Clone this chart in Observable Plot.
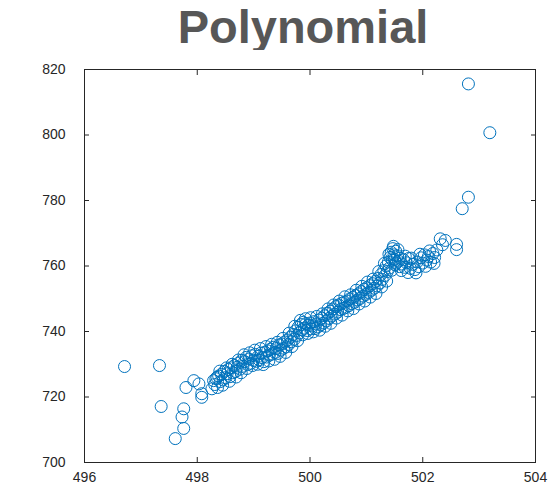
<!DOCTYPE html>
<html>
<head>
<meta charset="utf-8">
<script src="https://cdn.jsdelivr.net/npm/d3@7"></script>
<script src="https://cdn.jsdelivr.net/npm/@observablehq/plot@0.6"></script>
<style>
  html, body { margin: 0; padding: 0; background: #fff; }
  #wrap { position: relative; width: 554px; height: 486px; }
  #title { position: absolute; left: 0; top: 3px; width: 606px; height: 47px; text-align: center;
    font: bold 47px "Liberation Sans", Arial, sans-serif; line-height: 47px; color: #575757; }
  #chart { position: absolute; left: 0; top: 50px; }
</style>
</head>
<body>
<div id="wrap">
  <div id="title">Polynomial</div>
  <div id="chart"></div>
</div>
<script>
const titleText = "Polynomial";
const xTicks = [496, 498, 500, 502, 504];
const yTicks = [700, 720, 740, 760, 780, 800, 820];

const xValues = [
  496.71, 497.33, 497.36, 497.61, 497.76, 497.73, 497.76, 497.80, 497.94, 498.03, 498.08, 498.08, 498.26, 498.29, 498.35,
  498.31, 498.33, 498.36, 498.38, 498.41, 498.43, 498.46, 498.48, 498.50, 498.53, 498.55, 498.58, 498.60, 498.63, 498.66,
  498.68, 498.71, 498.74, 498.76, 498.79, 498.81, 498.84, 498.87, 498.89, 498.92, 498.95, 498.97,
  499.00, 499.03, 499.05, 499.08, 499.10, 499.13, 499.15, 499.18, 499.20, 499.23, 499.25, 499.28, 499.30, 499.33, 499.35,
  499.38, 499.40, 499.43, 499.45, 499.48, 499.50, 499.53, 499.55, 499.58, 499.60,
  499.62, 499.65, 499.67, 499.70, 499.72, 499.74, 499.77, 499.79, 499.81, 499.84, 499.86, 499.88, 499.90, 499.93, 499.95,
  499.97, 500.00, 500.02,
  500.04, 500.07, 500.09, 500.11, 500.14, 500.16, 500.19, 500.21, 500.24, 500.26, 500.29, 500.31, 500.34, 500.36, 500.39,
  500.41, 500.44, 500.46, 500.49, 500.51, 500.54, 500.56, 500.59, 500.61,
  500.64, 500.66, 500.69, 500.71, 500.74, 500.76, 500.79, 500.81, 500.84, 500.86, 500.89, 500.91, 500.94, 500.96, 500.99,
  501.01, 501.04, 501.06, 501.09, 501.11, 501.14, 501.16, 501.19,
  501.21, 501.24, 501.26, 501.28, 501.31, 501.33, 501.35, 501.37, 501.39, 501.41, 501.42, 501.44, 501.46, 501.47, 501.49,
  501.50, 501.52, 501.53, 501.55, 501.57, 501.59, 501.60,
  501.63, 501.66, 501.68, 501.71, 501.75, 501.78, 501.82, 501.86, 501.90, 501.93, 501.97, 502.00, 502.03, 502.07, 502.10,
  502.14, 502.18, 502.21, 502.25,
  502.31, 502.40, 502.35, 502.60, 502.60, 502.81, 503.19, 502.81, 502.70,
  498.40, 498.45, 498.52, 498.57, 498.62, 498.69, 498.73, 498.78, 498.83, 498.88, 498.93, 498.98,
  499.02, 499.07, 499.12, 499.17, 499.22, 499.27, 499.32, 499.37, 499.42, 499.47, 499.52, 499.57,
  499.63, 499.68, 499.73, 499.78, 499.83, 499.87, 499.92, 499.96, 500.01, 500.06, 500.12, 500.17,
  500.22, 500.27, 500.32, 500.37, 500.42, 500.47, 500.52, 500.57, 500.62, 500.67, 500.72, 500.77,
  500.82, 500.87, 500.92, 500.97, 501.02, 501.07, 501.12, 501.17, 501.22, 501.27, 501.32, 501.36,
  501.40, 501.45, 501.48, 501.51, 501.56, 501.62, 501.69, 501.74, 501.80, 501.88, 501.95, 502.05,
  502.12, 502.20
];
const yValues = [
  729.3, 729.6, 717.1, 707.3, 710.4, 713.9, 716.4, 722.9, 725.0, 724.0, 721.0, 719.9, 722.5, 725.0, 726.0,
  723.8, 725.6, 722.9, 726.4, 724.7, 726.9, 725.2, 727.8, 725.9, 727.1, 728.4, 726.2, 728.9, 727.4, 729.6,
  727.8, 729.1, 730.4, 728.5, 731.2, 729.4, 730.8, 732.1, 729.9, 731.6, 730.3, 732.6,
  731.2, 733.0, 730.9, 732.4, 731.3, 733.4, 732.0, 730.8, 733.7, 732.2, 734.1, 732.8, 734.6, 733.1, 735.2,
  733.6, 734.8, 733.3, 735.9, 734.3, 736.2, 734.9, 736.8, 735.3, 737.4,
  736.0, 738.2, 736.9, 739.1, 737.6, 740.2, 738.8, 741.3, 739.6, 742.1, 740.5, 742.8, 741.0, 742.4, 740.3,
  741.9, 742.6, 740.8,
  741.7, 743.0, 740.9, 742.3, 741.4, 743.5, 742.0, 744.1, 742.6, 744.8, 743.2, 745.6, 744.0, 746.2, 744.7,
  746.9, 745.3, 747.6, 745.9, 748.1, 746.7, 748.6, 747.0, 749.0,
  747.4, 749.3, 747.9, 750.0, 748.5, 750.4, 748.9, 751.0, 749.6, 751.5, 750.1, 752.2, 750.8, 752.9, 751.3,
  753.4, 751.9, 754.0, 752.6, 754.6, 753.2, 755.3, 753.9,
  756.2, 754.8, 757.4, 755.9, 758.6, 757.1, 760.0, 758.3, 761.2, 759.4, 762.6, 764.2, 761.8, 765.3, 763.4,
  762.0, 764.5, 760.9, 763.1, 761.5, 759.8, 762.4,
  760.6, 761.9, 759.6, 761.0, 762.3, 759.3, 760.5, 758.9, 761.2, 759.8, 762.5, 760.9, 763.4, 761.8, 762.9,
  761.2, 763.8, 762.6, 764.9,
  768.3, 767.8, 766.5, 766.6, 765.0, 815.6, 800.7, 781.0, 777.5,
  727.9, 723.6, 728.9, 724.8, 730.0, 726.1, 731.3, 727.4, 732.9, 728.7, 733.5, 729.6,
  734.3, 730.0, 734.8, 729.9, 735.4, 731.0, 736.1, 731.5, 736.7, 732.4, 737.9, 733.6,
  739.5, 735.4, 741.6, 737.2, 743.4, 739.0, 743.9, 739.4, 744.2, 739.9, 744.6, 740.4,
  745.4, 741.6, 746.9, 742.5, 748.1, 744.1, 749.3, 745.0, 750.6, 746.3, 751.2, 747.0,
  752.6, 748.4, 753.8, 749.3, 755.1, 750.5, 756.0, 751.6, 758.3, 753.6, 760.8, 755.4,
  763.6, 758.7, 766.0, 760.4, 765.0, 758.6, 763.0, 758.0, 762.4, 757.9, 763.6, 759.9,
  764.6, 760.8
];

const data = xValues.map((x, i) => ({x, y: yValues[i]}));
const axisColor = "#262626";

const chart = Plot.plot({
  width: 554,
  height: 436,
  marginTop: 19,
  marginBottom: 24,
  marginLeft: 84,
  marginRight: 19,
  style: {fontFamily: "'Liberation Sans', Arial, sans-serif", fontSize: "14px", color: axisColor, background: "white"},
  x: {domain: [496, 504], nice: false},
  y: {domain: [700, 820], nice: false},
  marks: [
    Plot.frame({stroke: axisColor, strokeWidth: 1}),
    Plot.axisX(xTicks, {anchor: "bottom", tickSize: -5, tickPadding: 15, label: null, stroke: axisColor, fill: axisColor, fontSize: 14}),
    Plot.axisX(xTicks, {anchor: "top", tickSize: -5, tickFormat: () => "", label: null, stroke: axisColor}),
    Plot.axisY(yTicks, {anchor: "left", tickSize: -5, tickPadding: 24, label: null, stroke: axisColor, fill: axisColor, fontSize: 14}),
    Plot.axisY(yTicks, {anchor: "right", tickSize: -5, tickFormat: () => "", label: null, stroke: axisColor}),
    Plot.dot(data, {x: "x", y: "y", r: 6, stroke: "#0072BD", fill: "none", strokeWidth: 1})
  ]
});
document.getElementById("chart").appendChild(chart);
document.getElementById("title").textContent = titleText;
</script>
</body>
</html>
